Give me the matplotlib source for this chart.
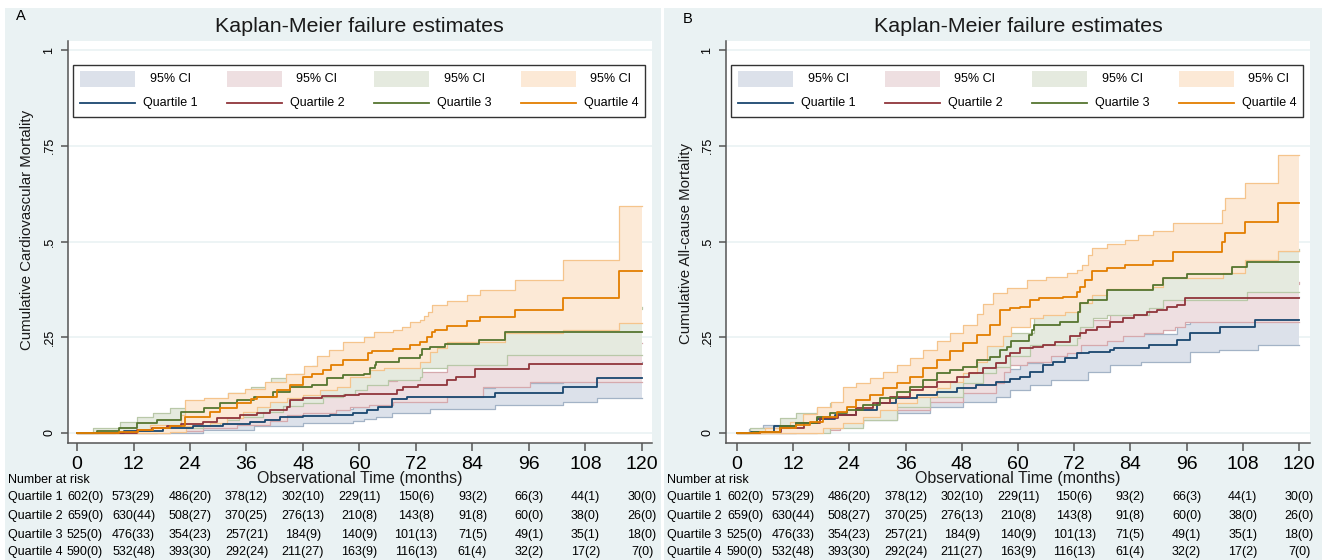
import matplotlib
matplotlib.use('Agg')
import matplotlib.pyplot as plt
from matplotlib.patches import Rectangle
from matplotlib.lines import Line2D
from matplotlib.transforms import blended_transform_factory, offset_copy
import numpy as np

plt.rcParams['font.family'] = ['Liberation Sans', 'DejaVu Sans']

# ---------------- data ----------------
TIME_TICKS = [0, 12, 24, 36, 48, 60, 72, 84, 96, 108, 120]
Y_TICKS = [0, 0.25, 0.5, 0.75, 1]
Y_TICK_LABELS = ['0', '.25', '.5', '.75', '1']
GROUPS = ['Quartile 1', 'Quartile 2', 'Quartile 3', 'Quartile 4']

Q1_N = [602, 573, 486, 378, 302, 229, 150, 93, 66, 44, 30]
Q1_D = [0, 29, 20, 12, 10, 11, 6, 2, 3, 1, 0]
Q2_N = [659, 630, 508, 370, 276, 210, 143, 91, 60, 38, 26]
Q2_D = [0, 44, 27, 25, 13, 8, 8, 8, 0, 0, 0]
Q3_N = [525, 476, 354, 257, 184, 140, 101, 71, 49, 35, 18]
Q3_D = [0, 33, 23, 21, 9, 9, 13, 5, 1, 1, 0]
Q4_N = [590, 532, 393, 292, 211, 163, 116, 61, 32, 17, 7]
Q4_D = [0, 48, 30, 24, 27, 9, 13, 4, 2, 2, 0]

# Panel A: cardiovascular mortality (time, cumulative failure) step points
A_Q1_EST = [(0,0),(4.5,0.001),(10,0.004),(18.3,0.012),(24.7,0.019),(31.1,0.024),(36.7,0.030),(40,0.034),(43.1,0.043),(48,0.045),(53.7,0.047),(58.7,0.051),(61.5,0.060),(64,0.069),(66.9,0.090),(70,0.094),(88.8,0.104),(103.3,0.121),(110.4,0.143),(120,0.143)]
A_Q1_LO = [(0,0),(12.7,0.001),(26.8,0.008),(37.5,0.017),(48.1,0.025),(58.7,0.032),(61,0.036),(63.5,0.043),(66.9,0.051),(75,0.062),(88.8,0.073),(103.3,0.082),(110.4,0.091),(120,0.091)]
A_Q1_HI = [(0,0),(4.5,0.004),(10,0.010),(18.3,0.020),(24.7,0.029),(31.1,0.035),(36.7,0.042),(43.1,0.058),(53.7,0.062),(58.7,0.067),(61.5,0.078),(66.9,0.112),(70,0.118),(88.8,0.130),(103.3,0.150),(110.4,0.185),(120,0.185)]

A_Q2_EST = [(0,0),(8,0.001),(12.7,0.008),(16,0.012),(19.1,0.017),(22,0.024),(26.8,0.030),(29.7,0.038),(34.6,0.047),(38.2,0.051),(41,0.060),(44.5,0.069),(45.2,0.086),(48.1,0.091),(52,0.097),(57,0.099),(59.8,0.103),(67.9,0.112),(69.3,0.121),(72.5,0.125),(78.5,0.138),(80.6,0.147),(84.5,0.167),(95.9,0.181),(120,0.181)]
A_Q2_LO = [(0,0),(14.7,0.001),(19.8,0.005),(26.8,0.012),(33.9,0.021),(41,0.032),(44.5,0.047),(48,0.051),(55.1,0.060),(58,0.068),(62,0.073),(67.2,0.082),(78.5,0.095),(86.3,0.121),(96.2,0.132),(120,0.132)]
A_Q2_HI = [(0,0),(8,0.004),(12.7,0.018),(19.1,0.030),(26.8,0.045),(34.6,0.062),(41,0.078),(45.2,0.112),(52,0.125),(59.8,0.135),(67.9,0.145),(72.5,0.160),(78.5,0.180),(84.5,0.210),(95.9,0.235),(120,0.235)]

A_Q3_EST = [(0,0),(4.2,0.004),(9,0.012),(12.7,0.025),(17,0.034),(22,0.056),(26.9,0.064),(30.4,0.078),(33.9,0.086),(37.5,0.095),(41.7,0.108),(45.2,0.119),(50,0.125),(53.2,0.143),(56.5,0.151),(61,0.153),(62.2,0.169),(63.2,0.178),(63.6,0.186),(68.4,0.195),(72.9,0.203),(73.2,0.219),(75,0.225),(78.2,0.232),(85.3,0.242),(91,0.263),(120,0.263)]
A_Q3_LO = [(0,0),(10,0.001),(17,0.005),(22,0.012),(26.8,0.021),(30.4,0.034),(34.5,0.043),(39.6,0.056),(43.8,0.071),(48,0.078),(52.3,0.095),(56.6,0.102),(59,0.112),(61.5,0.125),(66,0.138),(72.9,0.147),(73.2,0.169),(78.5,0.178),(91.4,0.203),(120,0.203)]
A_Q3_HI = [(0,0),(3.5,0.012),(9.1,0.030),(12.7,0.043),(16.2,0.051),(19.8,0.064),(26.9,0.086),(32.1,0.104),(37,0.121),(41.3,0.143),(46,0.155),(50,0.175),(56,0.200),(62,0.225),(68,0.245),(73.2,0.275),(78.2,0.290),(91,0.325),(120,0.330)]

A_Q4_EST = [(0,0),(9,0.003),(13,0.008),(16.2,0.012),(19.8,0.017),(22.9,0.043),(28.2,0.056),(30.4,0.064),(33.9,0.078),(37,0.090),(38.2,0.095),(42.4,0.112),(45.2,0.125),(48.1,0.145),(50,0.155),(52.3,0.165),(54,0.178),(56.6,0.191),(61.9,0.208),(62.6,0.214),(67.2,0.219),(70.8,0.230),(72.9,0.238),(74.3,0.251),(75.4,0.264),(76.1,0.270),(78.5,0.280),(82.8,0.292),(85.6,0.303),(93,0.321),(103.3,0.352),(115.2,0.423),(120,0.423)]
A_Q4_LO = [(0,0),(19.8,0.003),(23.2,0.017),(28.2,0.025),(31.8,0.038),(35.3,0.056),(38.2,0.069),(41,0.082),(44.5,0.091),(48.1,0.099),(51.6,0.112),(55.2,0.119),(58,0.145),(62.2,0.164),(65.1,0.171),(72.9,0.186),(75,0.212),(76.5,0.221),(78.5,0.238),(91,0.262),(103.3,0.269),(115.2,0.286),(120,0.286)]
A_Q4_HI = [(0,0),(9.8,0.004),(15.6,0.021),(22,0.047),(22.9,0.086),(26.9,0.091),(32.1,0.104),(35.7,0.114),(40,0.134),(44.3,0.154),(48.3,0.175),(51,0.200),(53.5,0.217),(56.5,0.238),(61,0.250),(63,0.264),(67.2,0.269),(69,0.278),(70.8,0.291),(72.9,0.295),(73.8,0.306),(74.6,0.317),(75.4,0.334),(78.5,0.345),(82.8,0.360),(85.6,0.373),(93,0.399),(103.3,0.451),(115.2,0.593),(120,0.593)]

# Panel B: all-cause mortality
B_Q1_EST = [(0,0),(3,0.003),(7.8,0.017),(12.7,0.026),(17,0.036),(21,0.047),(25.5,0.060),(29.8,0.078),(34,0.091),(38.4,0.099),(42.6,0.108),(46.9,0.117),(51,0.125),(55.4,0.134),(58.3,0.140),(60.5,0.147),(62.5,0.160),(65.4,0.178),(67.5,0.186),(70,0.195),(72.5,0.208),(75.2,0.212),(79.7,0.217),(80.5,0.221),(88,0.230),(93.9,0.243),(96.8,0.260),(103.2,0.278),(110.6,0.295),(120,0.295)]
B_Q1_LO = [(0,0),(5.6,0.001),(12.7,0.009),(19.9,0.017),(27,0.034),(34.1,0.051),(41.2,0.069),(48.3,0.082),(55.4,0.095),(58.3,0.112),(62.6,0.126),(67,0.139),(74.9,0.160),(79.7,0.178),(86.3,0.186),(96.8,0.212),(103,0.217),(111.3,0.230),(120,0.230)]
B_Q1_HI = [(0,0),(2.5,0.010),(5.6,0.022),(10,0.035),(15,0.048),(20,0.060),(25.5,0.080),(30,0.100),(34,0.115),(38.4,0.125),(42.6,0.135),(46.9,0.148),(51,0.158),(55.4,0.168),(60.5,0.182),(65.4,0.215),(72.5,0.245),(80.5,0.258),(93.9,0.285),(96.8,0.305),(103.2,0.325),(110.6,0.355),(120,0.355)]

B_Q2_EST = [(0,0),(5,0.003),(9.5,0.013),(14.2,0.026),(17.7,0.039),(21.5,0.047),(25.5,0.065),(29,0.078),(32.7,0.095),(36.9,0.112),(39.8,0.121),(42.6,0.134),(46.9,0.147),(49.5,0.156),(52.6,0.169),(55.4,0.182),(57.5,0.200),(58.3,0.208),(60.4,0.221),(63.3,0.225),(65.4,0.231),(67.9,0.238),(71.1,0.252),(73.2,0.260),(74.6,0.269),(76.8,0.278),(79.7,0.291),(82.5,0.300),(84.7,0.308),(87.5,0.317),(89.7,0.321),(91.8,0.330),(93.9,0.334),(95.7,0.352),(120,0.352)]
B_Q2_LO = [(0,0),(10.5,0.001),(17,0.009),(22,0.026),(27,0.039),(34.1,0.060),(41.2,0.082),(48.3,0.104),(55.4,0.130),(57,0.160),(58.3,0.178),(62,0.186),(67,0.201),(70.5,0.210),(73.5,0.230),(79,0.239),(82.5,0.252),(86.8,0.260),(91,0.269),(93.5,0.278),(95.7,0.291),(120,0.291)]
B_Q2_HI = [(0,0),(5,0.012),(9.5,0.028),(14.2,0.045),(17.7,0.060),(21.5,0.072),(25.5,0.092),(29,0.108),(32.7,0.128),(36.9,0.148),(42.6,0.170),(46.9,0.185),(52.6,0.205),(57.5,0.235),(62.5,0.258),(67.9,0.268),(73.2,0.295),(79.7,0.325),(84.7,0.345),(89.7,0.355),(93.9,0.368),(95.7,0.390),(120,0.395)]

B_Q3_EST = [(0,0),(3.5,0.003),(9.2,0.017),(12.7,0.026),(17,0.043),(19.9,0.051),(23.4,0.060),(27,0.073),(30.6,0.091),(34.1,0.108),(36.9,0.121),(39.8,0.138),(42.6,0.156),(45.5,0.165),(48.3,0.173),(51.2,0.191),(54,0.199),(56.2,0.217),(57.6,0.224),(58.5,0.240),(62.3,0.255),(63,0.270),(63.5,0.282),(69,0.291),(72.9,0.317),(73.2,0.339),(75,0.347),(78.9,0.373),(88.9,0.386),(91,0.404),(96,0.414),(105.7,0.434),(108.8,0.447),(120,0.447)]
B_Q3_LO = [(0,0),(10.5,0.001),(19.9,0.013),(27,0.034),(34.1,0.069),(41.2,0.095),(48.3,0.130),(52.6,0.156),(55.4,0.173),(58.3,0.200),(62.6,0.230),(72.5,0.247),(73.2,0.278),(76,0.300),(79,0.308),(88,0.326),(91,0.347),(108.8,0.369),(120,0.369)]
B_Q3_HI = [(0,0),(2.8,0.013),(9.2,0.039),(12.7,0.051),(17,0.065),(19.9,0.078),(23.4,0.090),(27,0.105),(30.6,0.125),(34.1,0.145),(39.8,0.170),(45.5,0.200),(51.2,0.230),(56.2,0.260),(63.5,0.320),(73.2,0.380),(78.9,0.410),(91,0.450),(108.8,0.475),(120,0.480)]

B_Q4_EST = [(0,0),(5,0.003),(9.2,0.013),(12.7,0.022),(15.5,0.030),(18.4,0.043),(21.3,0.056),(23.4,0.069),(25.5,0.086),(28.4,0.099),(31.2,0.117),(34.1,0.130),(36.9,0.147),(39.8,0.169),(42.6,0.191),(45.5,0.213),(48.3,0.234),(51.2,0.256),(54,0.282),(56.2,0.321),(58.3,0.326),(60.4,0.330),(62.6,0.347),(64.5,0.352),(69.7,0.356),(72.5,0.369),(73.2,0.382),(74.3,0.400),(75.7,0.423),(78.9,0.430),(82.8,0.439),(88.9,0.449),(93.2,0.473),(103.5,0.500),(104.2,0.521),(108.5,0.550),(115.6,0.600),(120,0.600)]
B_Q4_LO = [(0,0),(12.7,0.001),(18.4,0.013),(22.7,0.026),(27,0.043),(30.6,0.060),(34.1,0.078),(38.4,0.095),(42.6,0.117),(45.5,0.134),(48.3,0.156),(51.2,0.185),(53.3,0.226),(56.9,0.252),(58.5,0.278),(62.6,0.300),(65.4,0.308),(70,0.317),(73.2,0.339),(75.7,0.360),(78.9,0.376),(88.9,0.382),(91,0.404),(103.8,0.417),(108.5,0.452),(115.6,0.475),(120,0.475)]
B_Q4_HI = [(0,0),(6,0.013),(11.3,0.030),(14,0.050),(17,0.069),(20,0.082),(22.7,0.121),(25.5,0.130),(28.4,0.143),(31.2,0.160),(34.1,0.178),(36.9,0.195),(39.8,0.217),(42.6,0.239),(45.5,0.260),(48.3,0.282),(51.2,0.312),(52.6,0.338),(54.7,0.365),(57.6,0.378),(61.9,0.400),(66,0.408),(70.4,0.417),(72.5,0.426),(73.6,0.439),(75,0.465),(75.7,0.484),(78.9,0.493),(82.8,0.504),(85.7,0.517),(88.9,0.527),(93.2,0.547),(103.5,0.582),(104.2,0.614),(108.5,0.652),(115.6,0.726),(120,0.726)]

# ---------------- style ----------------
LINE_COLORS = ['#1a476f', '#90353b', '#55752f', '#e37e00']
FILL_COLORS = ['#dce1ea', '#eedfe1', '#e5eadf', '#fce9d6']
EDGE_COLORS = ['#a3b3c6', '#d6a9ad', '#b9c8a8', '#f5c48c']
BG = '#eaf2f3'
AXC = '#555555'

W, H = 1328, 560
fig = plt.figure(figsize=(W / 100, H / 100), dpi=100)


def fx(px):
    return px / W


def fy(py):
    return 1 - py / H


def step_eval(pts, grid):
    t = np.array([p[0] for p in pts])
    v = np.array([p[1] for p in pts])
    idx = np.searchsorted(t, grid, side='right') - 1
    return v[np.clip(idx, 0, len(v) - 1)]


panels = [
    dict(letter='A', bg=(5, 661), ax=(68, 652), x0=77, x120=642, letter_pos=(21, 16),
         ylabel='Cumulative Cardiovascular Mortality', ylabel_pos=(27, 230),
         curves=[(A_Q1_EST, A_Q1_LO, A_Q1_HI), (A_Q2_EST, A_Q2_LO, A_Q2_HI),
                 (A_Q3_EST, A_Q3_LO, A_Q3_HI), (A_Q4_EST, A_Q4_LO, A_Q4_HI)]),
    dict(letter='B', bg=(664, 1322), ax=(726, 1310), x0=737, x120=1299, letter_pos=(688, 19),
         ylabel='Cumulative All-cause Mortality', ylabel_pos=(686, 243),
         curves=[(B_Q1_EST, B_Q1_LO, B_Q1_HI), (B_Q2_EST, B_Q2_LO, B_Q2_HI),
                 (B_Q3_EST, B_Q3_LO, B_Q3_HI), (B_Q4_EST, B_Q4_LO, B_Q4_HI)]),
]

AX_TOP, AX_BOT = 41, 443
Y0_PX, Y1_PX = 433, 50
risk = [(Q1_N, Q1_D), (Q2_N, Q2_D), (Q3_N, Q3_D), (Q4_N, Q4_D)]

for P in panels:
    b0, b1 = P['bg']
    fig.patches.append(Rectangle((fx(b0), fy(H)), fx(b1) - fx(b0), fy(8) - fy(H),
                                 transform=fig.transFigure, facecolor=BG, edgecolor='none', zorder=-10))
    l, r = P['ax']
    ax = fig.add_axes([fx(l), fy(AX_BOT), fx(r) - fx(l), fy(AX_TOP) - fy(AX_BOT)])
    pxm = (P['x120'] - P['x0']) / 120.0
    ax.set_xlim((l - P['x0']) / pxm, (r - P['x0']) / pxm)
    pxv = (Y0_PX - Y1_PX) / 1.0
    ax.set_ylim((Y0_PX - AX_BOT) / pxv, (Y0_PX - AX_TOP) / pxv)
    ax.set_facecolor('white')
    for s in ['top', 'right']:
        ax.spines[s].set_visible(False)
    for s in ['left', 'bottom']:
        ax.spines[s].set_color(AXC)
        ax.spines[s].set_linewidth(1.1)
    ax.set_xticks(TIME_TICKS)
    ax.set_xticklabels([str(t) for t in TIME_TICKS])
    ax.set_yticks(Y_TICKS)
    ax.set_yticklabels(Y_TICK_LABELS, rotation=90, va='center')
    ax.tick_params(axis='x', labelsize=14, length=6, width=1.1, color=AXC, pad=3.5)
    ax.tick_params(axis='y', labelsize=9, length=5, width=1.1, color=AXC, pad=4)
    ax.grid(axis='y', color=BG, lw=1.2)
    ax.set_axisbelow(True)

    for i, (est, lo, hi) in enumerate(P['curves']):
        grid = np.unique(np.array([p[0] for p in lo] + [p[0] for p in hi]))
        ax.fill_between(grid, step_eval(lo, grid), step_eval(hi, grid), step='post',
                        facecolor=FILL_COLORS[i], edgecolor='none', zorder=2 + i * 0.1)
        for band in (lo, hi):
            ax.step([p[0] for p in band], [p[1] for p in band], where='post',
                    color=EDGE_COLORS[i], lw=0.9, zorder=2.05 + i * 0.1)
    for i, (est, lo, hi) in enumerate(P['curves']):
        ax.step([p[0] for p in est], [p[1] for p in est], where='post',
                color=LINE_COLORS[i], lw=1.3, zorder=3 + i * 0.1)

    # titles and labels
    cx = (P['x0'] + P['x120']) / 2
    fig.text(fx(cx), fy(27), 'Kaplan-Meier failure estimates', ha='center', va='center',
             fontsize=15.4, color='#1a1a1a')
    fig.text(fx(P['letter_pos'][0]), fy(P['letter_pos'][1]), P['letter'], ha='center',
             va='center', fontsize=10.5, color='black')
    fig.text(fx(P['ylabel_pos'][0]), fy(P['ylabel_pos'][1]), P['ylabel'], rotation=90,
             ha='center', va='center', fontsize=10.8, color='#1a1a1a')
    fig.text(fx(cx), fy(479), 'Observational Time (months)', ha='center', va='center',
             fontsize=11.5, color='#1a1a1a')

    # legend
    lb0 = l + 5
    fig.add_artist(Rectangle((fx(lb0), fy(117)), fx(572) - fx(0), fy(65) - fy(117),
                             transform=fig.transFigure, facecolor='white',
                             edgecolor='#333333', lw=1.0, zorder=5))
    for i in range(4):
        ps = lb0 + 7 + i * 147
        fig.add_artist(Rectangle((fx(ps), fy(87)), fx(55) - fx(0), fy(71) - fy(87),
                                 transform=fig.transFigure, facecolor=FILL_COLORS[i],
                                 edgecolor='none', zorder=6))
        fig.add_artist(Line2D([fx(ps), fx(ps + 55)], [fy(103), fy(103)],
                              transform=fig.transFigure, color=LINE_COLORS[i], lw=1.3, zorder=6))
        fig.text(fx(ps + 90), fy(79), '95% CI', ha='center', va='center', fontsize=9, zorder=7)
        fig.text(fx(ps + 90), fy(103), GROUPS[i], ha='center', va='center', fontsize=9, zorder=7)

    # number at risk table
    trans = blended_transform_factory(ax.transData, fig.transFigure)
    trans_first = offset_copy(trans, fig=fig, x=-10, y=0, units='dots')
    fig.text(fx(b0 + 3), fy(480), 'Number at risk', ha='left', va='center', fontsize=9)
    row_y = [497, 516, 535, 552]
    for gi, (nn, dd) in enumerate(risk):
        fig.text(fx(b0 + 3), fy(row_y[gi]), GROUPS[gi], ha='left', va='center', fontsize=9)
        for k, (t, n, d) in enumerate(zip(TIME_TICKS, nn, dd)):
            if k == 0:
                ax.text(t, fy(row_y[gi]), f'{n}({d})', transform=trans_first, ha='left',
                        va='center', fontsize=9, clip_on=False)
            else:
                ax.text(t, fy(row_y[gi]), f'{n}({d})', transform=trans, ha='center',
                        va='center', fontsize=9, clip_on=False)

fig.savefig('out.png', dpi=100)
